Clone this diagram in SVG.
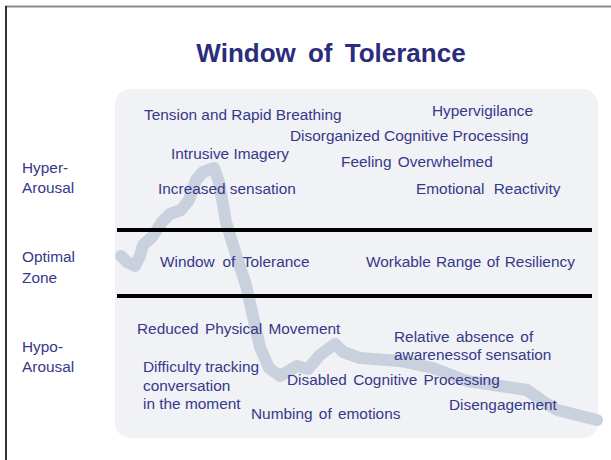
<svg xmlns="http://www.w3.org/2000/svg" width="611" height="460" viewBox="0 0 611 460">
<style>
.t{font-family:"Liberation Sans",Arial,sans-serif;font-size:15.4px;fill:#38388a}
.w2{word-spacing:2px}
.w3{word-spacing:3.5px}
.title{font-family:"Liberation Sans",Arial,sans-serif;font-size:26px;font-weight:bold;fill:#2c2c7c;word-spacing:5px}
.div{stroke:#000;stroke-width:4}
</style>
<rect x="0" y="0" width="611" height="460" fill="#fff"/>
<g id="frame">
<line x1="5" y1="6.5" x2="611" y2="6.5" stroke="#8a8a8a" stroke-width="2"/>
<line x1="6" y1="6" x2="6" y2="460" stroke="#333" stroke-width="2"/>
</g>
<g id="title"><text class="title" x="331" y="62" text-anchor="middle">Window of Tolerance</text></g>
<g id="panel"><rect x="115" y="89" width="483" height="349" rx="15" fill="#f0f2f6"/></g>
<g id="connectors">
<polyline fill="none" stroke="#c9d1de" stroke-width="12" stroke-linecap="round" stroke-linejoin="round" points="121,256 127,262 135,266 140,256 143,245 152,237 162,222 170,214 181,210 189,200 196,180 203,172 214,168 219,182 226,222 237,258 246,285 252,312 260,347 269,368 280,376 297,366 308,369 320,355 335,344 343,352 360,358 400,361 433,368 467,381 500,386 527,390 541,400 557,410 597,420"/>
</g>
<g id="dividers">
<line class="div" x1="117" y1="230" x2="592" y2="230"/>
<line class="div" x1="117" y1="296" x2="592" y2="296"/>
</g>
<g id="zone-hyper">
<text class="t" x="22" y="173">Hyper-</text>
<text class="t" x="22" y="193">Arousal</text>
</g>
<g id="zone-optimal">
<text class="t" x="22" y="262">Optimal</text>
<text class="t" x="22" y="283">Zone</text>
</g>
<g id="zone-hypo">
<text class="t" x="22" y="352">Hypo-</text>
<text class="t" x="22" y="372">Arousal</text>
</g>
<g id="n-tension"><text class="t" x="144" y="120">Tension and Rapid Breathing</text></g>
<g id="n-hypervigilance"><text class="t" x="432" y="116">Hypervigilance</text></g>
<g id="n-disorganized"><text class="t" x="290" y="141">Disorganized Cognitive Processing</text></g>
<g id="n-intrusive"><text class="t" x="171" y="159">Intrusive Imagery</text></g>
<g id="n-overwhelmed"><text class="t w2" x="341" y="167">Feeling Overwhelmed</text></g>
<g id="n-increased"><text class="t" x="158" y="194">Increased sensation</text></g>
<g id="n-reactivity"><text class="t" x="416" y="194" style="word-spacing:5px">Emotional Reactivity</text></g>
<g id="n-window"><text class="t w3" x="160" y="267">Window of Tolerance</text></g>
<g id="n-workable"><text class="t" x="366" y="267" style="word-spacing:1px">Workable Range of Resiliency</text></g>
<g id="n-reduced"><text class="t w2" x="137" y="334">Reduced Physical Movement</text></g>
<g id="n-relative">
<text class="t w2" x="394" y="342">Relative absence of</text>
<text class="t" x="394" y="360">awarenessof sensation</text>
</g>
<g id="n-difficulty">
<text class="t" x="143" y="372">Difficulty tracking</text>
<text class="t" x="143" y="391">conversation</text>
<text class="t" x="143" y="409">in the moment</text>
</g>
<g id="n-disabled"><text class="t w2" x="287" y="385">Disabled Cognitive Processing</text></g>
<g id="n-disengagement"><text class="t" x="449" y="410">Disengagement</text></g>
<g id="n-numbing"><text class="t w2" x="251" y="419">Numbing of emotions</text></g>
</svg>
